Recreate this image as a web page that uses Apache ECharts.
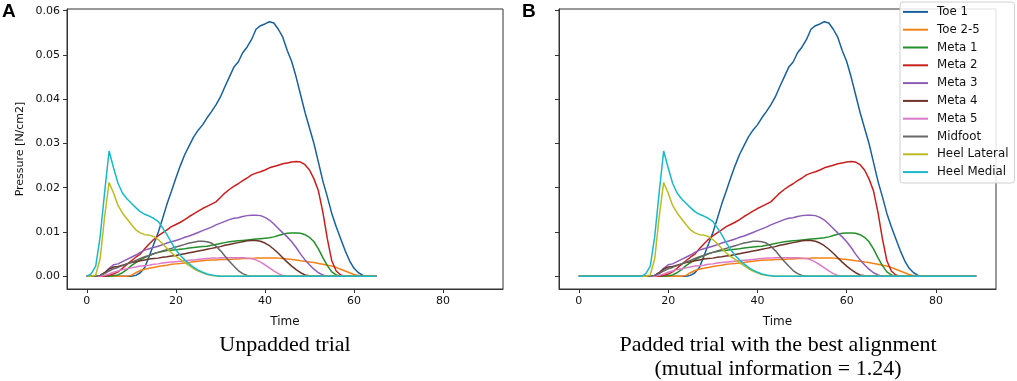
<!DOCTYPE html>
<html>
<head>
<meta charset="utf-8">
<script src="https://cdn.jsdelivr.net/npm/echarts@6/dist/echarts.min.js"></script>
<style>
  html, body { margin: 0; padding: 0; background: #fff; }
  #chart { width: 1017px; height: 381px; }
</style>
</head>
<body>
<div id="chart"></div>
<script>
// sensor names (legend order)
const sensors = ['Toe 1', 'Toe 2-5', 'Meta 1', 'Meta 2', 'Meta 3', 'Meta 4', 'Meta 5', 'Midfoot', 'Heel Lateral', 'Heel Medial'];
const colors = ['#19609c', '#f28218', '#22902a', '#c81e1e', '#8c5cb8', '#6c3328', '#dc7ac8', '#676767', '#bcbc22', '#19b9c9'];

// unpadded trial, t = 0..65
const toe1 = [0,0,0,0,0,0,0,0,0,0,0,0.0002,0.0008,0.002,0.0045,0.0072,0.0098,0.013,0.0163,0.0192,
  0.0222,0.025,0.0275,0.0295,0.0315,0.033,0.0342,0.0358,0.0372,0.0387,0.0405,0.0428,0.045,0.0472,0.0484,0.0505,0.0518,0.0535,0.0558,0.0566,
  0.057,0.0575,0.0572,0.0558,0.054,0.051,0.0485,0.045,0.041,0.037,0.0335,0.03,0.0258,0.0215,0.018,0.0142,0.0112,0.0085,0.0058,0.0035,
  0.0018,0.0008,0.0002,0,0,0];
const toe25 = [0,0,0,0,0,0,0,0,0,0,0.0002,0.0008,0.0013,0.0016,0.0018,0.002,0.0022,0.0024,0.0025,0.0027,
  0.0028,0.0029,0.003,0.0031,0.0033,0.0034,0.0035,0.0036,0.0037,0.0037,0.0038,0.0038,0.0038,0.0039,0.0039,0.004,0.004,0.004,0.0041,0.0041,
  0.0041,0.0041,0.0041,0.0041,0.004,0.0039,0.0038,0.0037,0.0035,0.0034,0.0032,0.0031,0.0029,0.0027,0.0025,0.0023,0.002,0.0016,0.0012,0.0008,
  0.0004,0.0002,0,0,0,0];
const meta1 = [0,0,0,0,0,0,0.0001,0.0003,0.0008,0.0015,0.0024,0.0031,0.0037,0.0042,0.0047,0.0051,0.0054,0.0056,0.0058,0.0059,
  0.006,0.0061,0.0062,0.0064,0.0065,0.0066,0.0067,0.0068,0.007,0.0072,0.0074,0.0076,0.0078,0.0079,0.008,0.0081,0.0082,0.0083,0.0084,0.0085,
  0.0086,0.0087,0.0089,0.0092,0.0095,0.0097,0.0098,0.0098,0.0097,0.0094,0.0088,0.0078,0.0062,0.0042,0.0024,0.001,0.0003,0,0,0,
  0,0,0,0,0,0];
const meta2 = [0,0,0,0,0,0.0002,0.0005,0.001,0.0018,0.0027,0.0035,0.0043,0.005,0.0062,0.0073,0.0083,0.0091,0.0098,0.0105,0.0112,
  0.0117,0.0122,0.0128,0.0135,0.0141,0.0147,0.0153,0.0158,0.0163,0.0168,0.0178,0.0188,0.0196,0.0203,0.0209,0.0216,0.0222,0.0229,0.0233,0.0236,
  0.024,0.0245,0.0248,0.0251,0.0254,0.0256,0.0258,0.0259,0.0258,0.0252,0.024,0.022,0.0193,0.0145,0.0085,0.0035,0.0012,0.0003,0,0,
  0,0,0,0,0,0];
const meta3 = [0,0,0,0.0002,0.0008,0.0018,0.0026,0.0028,0.0033,0.0038,0.0043,0.0048,0.0054,0.0059,0.0062,0.0065,0.0068,0.0071,0.0075,0.0078,
  0.0081,0.0084,0.0088,0.0091,0.0095,0.0099,0.0103,0.0107,0.0111,0.0116,0.012,0.0124,0.0128,0.0131,0.0132,0.0135,0.0137,0.0138,0.0138,0.0137,
  0.0133,0.0127,0.0118,0.0108,0.0098,0.0089,0.0078,0.0065,0.005,0.0037,0.0026,0.0016,0.0008,0.0003,0,0,0,0,0,0,
  0,0,0,0,0,0];
const meta4 = [0,0,0,0.0002,0.0008,0.0016,0.0021,0.0022,0.0025,0.0028,0.0031,0.0033,0.0035,0.0037,0.0039,0.004,0.0041,0.0043,0.0044,0.0046,
  0.0047,0.0049,0.0051,0.0053,0.0055,0.0057,0.0059,0.0061,0.0063,0.0065,0.0067,0.007,0.0072,0.0074,0.0076,0.0078,0.008,0.0081,0.0081,0.0079,
  0.0075,0.0069,0.0061,0.0052,0.0042,0.0032,0.0023,0.0015,0.0008,0.0003,0.0001,0,0,0,0,0,0,0,0,0,
  0,0,0,0,0,0];
const meta5 = [0,0,0,0,0.0002,0.0005,0.0009,0.0012,0.0015,0.0017,0.0019,0.0021,0.0023,0.0024,0.0025,0.0027,0.0028,0.003,0.0031,0.0032,
  0.0033,0.0034,0.0035,0.0036,0.0037,0.0038,0.0039,0.004,0.0041,0.0041,0.0042,0.0042,0.0042,0.0042,0.0042,0.0042,0.0041,0.004,0.0037,0.0032,
  0.0026,0.0019,0.0012,0.0006,0.0002,0,0,0,0,0,0,0,0,0,0,0,0,0,0,0,
  0,0,0,0,0,0];
const midfoot = [0,0,0,0.0002,0.0006,0.0012,0.0017,0.002,0.0024,0.0028,0.0032,0.0036,0.004,0.0044,0.0047,0.0051,0.0054,0.0057,0.006,0.0063,
  0.0066,0.0069,0.0072,0.0075,0.0077,0.0079,0.0079,0.0078,0.0075,0.0068,0.0058,0.0046,0.0034,0.0023,0.0013,0.0006,0.0002,0,0,0,
  0,0,0,0,0,0,0,0,0,0,0,0,0,0,0,0,0,0,0,0,
  0,0,0,0,0,0];
const heelLat = [0,0,0.0003,0.004,0.0135,0.0212,0.0188,0.016,0.0143,0.013,0.0117,0.0105,0.0098,0.0094,0.0093,0.009,0.0083,0.0074,0.0063,0.0053,
  0.0045,0.0038,0.0031,0.0024,0.0017,0.0012,0.0008,0.0004,0.0002,0.0001,0,0,0,0,0,0,0,0,0,0,
  0,0,0,0,0,0,0,0,0,0,0,0,0,0,0,0,0,0,0,0,
  0,0,0,0,0,0];
const heelMed = [0,0.0006,0.0023,0.009,0.019,0.0283,0.0245,0.021,0.0188,0.0175,0.0165,0.0155,0.0146,0.014,0.0136,0.0131,0.0124,0.011,0.0094,0.0076,
  0.006,0.0047,0.0037,0.0028,0.002,0.0014,0.0009,0.0005,0.0003,0.0001,0,0,0,0,0,0,0,0,0,0,
  0,0,0,0,0,0,0,0,0,0,0,0,0,0,0,0,0,0,0,0,
  0,0,0,0,0,0];
const trial = [toe1, toe25, meta1, meta2, meta3, meta4, meta5, midfoot, heelLat, heelMed];

// padded trial: best alignment shifts the unpadded trial by 14 samples, total length 90
const padFront = 14;
const paddedLength = 90;

const xTicks = [0, 20, 40, 60, 80];
const yTicks = [0, 0.01, 0.02, 0.03, 0.04, 0.05, 0.06];

const tickFont = { fontFamily: 'DejaVu Sans', fontSize: 11, color: '#111' };

function xAxisFor(gridIndex) {
  return {
    gridIndex, type: 'value', min: -4.45, max: 93.45,
    name: 'Time', nameLocation: 'middle', nameGap: 27,
    nameTextStyle: { fontFamily: 'DejaVu Sans', fontSize: 12, color: '#111' },
    axisLine: { show: true, onZero: false, lineStyle: { color: '#333', width: 1 } },
    axisTick: { show: true, length: 4, customValues: xTicks, lineStyle: { color: '#333' } },
    axisLabel: Object.assign({ margin: 7, customValues: xTicks }, tickFont),
    splitLine: { show: false }
  };
}

function yAxisFor(gridIndex, withLabels) {
  return {
    gridIndex, type: 'value', min: -0.002875, max: 0.060375,
    name: withLabels ? 'Pressure [N/cm2]' : '', nameLocation: 'middle', nameGap: 41,
    nameTextStyle: { fontFamily: 'DejaVu Sans', fontSize: 11, color: '#111' },
    axisLine: { show: true, onZero: false, lineStyle: { color: '#333', width: 1 } },
    axisTick: { show: true, length: 4, customValues: yTicks, lineStyle: { color: '#333' } },
    axisLabel: Object.assign({
      show: withLabels, margin: 7, customValues: yTicks,
      formatter: v => v.toFixed(2)
    }, tickFont),
    splitLine: { show: false }
  };
}

const series = [];
sensors.forEach((name, i) => {
  const unpadded = trial[i].map((v, t) => [t, v]);
  const padded = [];
  for (let t = 0; t < paddedLength; t++) {
    const src = t - padFront;
    padded.push([t, src >= 0 && src < trial[i].length ? trial[i][src] : 0]);
  }
  [unpadded, padded].forEach((data, g) => {
    series.push({
      name, type: 'line', xAxisIndex: g, yAxisIndex: g,
      data, showSymbol: false, symbol: 'none', smooth: false,
      lineStyle: { color: colors[i], width: 1.5 },
      itemStyle: { color: colors[i] },
      emphasis: { disabled: true }, z: 2 + i
    });
  });
});

const chart = echarts.init(document.getElementById('chart'), null, { renderer: 'canvas' });
chart.setOption({
  animation: false,
  backgroundColor: '#fff',
  grid: [
    { left: 67, top: 9, width: 436, height: 280, show: true, borderColor: '#333', borderWidth: 1 },
    { left: 559, top: 9, width: 437, height: 280, show: true, borderColor: '#333', borderWidth: 1 }
  ],
  xAxis: [xAxisFor(0), xAxisFor(1)],
  yAxis: [yAxisFor(0, true), yAxisFor(1, false)],
  legend: {
    data: sensors, orient: 'vertical', left: 900, top: 2,
    icon: 'rect', itemWidth: 25, itemHeight: 2, itemGap: 0,
    padding: [1, 6, 2, 3],
    backgroundColor: 'rgba(255,255,255,0.85)', borderColor: '#d0d0d0', borderWidth: 1, borderRadius: 3,
    textStyle: { fontFamily: 'DejaVu Sans', fontSize: 11.8, color: '#111', lineHeight: 17.8, padding: [0, 0, 0, 4] },
    z: 10
  },
  graphic: [
    { type: 'text', left: 2, top: 2, style: { text: 'A', font: 'bold 19px "Liberation Sans"', fill: '#000' } },
    { type: 'text', left: 522, top: 2, style: { text: 'B', font: 'bold 19px "Liberation Sans"', fill: '#000' } },
    { type: 'text', x: 285, y: 345, style: { text: 'Unpadded trial', font: '22px "Liberation Serif"', fill: '#000', align: 'center', verticalAlign: 'middle' } },
    { type: 'text', x: 778, y: 345, style: { text: 'Padded trial with the best alignment', font: '22px "Liberation Serif"', fill: '#000', align: 'center', verticalAlign: 'middle' } },
    { type: 'text', x: 778, y: 369, style: { text: '(mutual information = 1.24)', font: '22px "Liberation Serif"', fill: '#000', align: 'center', verticalAlign: 'middle' } }
  ],
  series
});
</script>
</body>
</html>
